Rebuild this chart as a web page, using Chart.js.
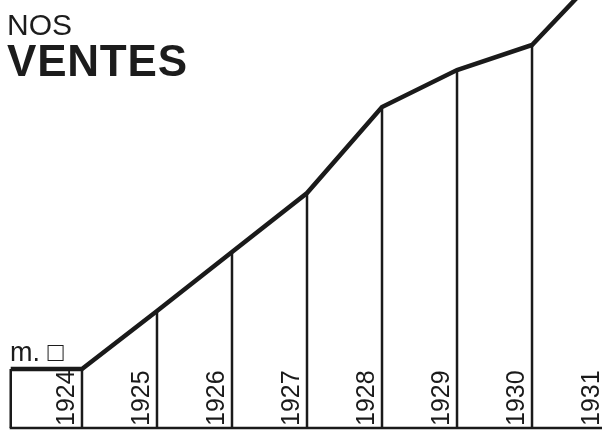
<!DOCTYPE html>
<html>
<head>
<meta charset="utf-8">
<script src="https://cdn.jsdelivr.net/npm/chart.js@4/dist/chart.umd.min.js"></script>
<style>
  html, body { margin: 0; padding: 0; background: #fff; }
  #wrap { position: relative; width: 602px; height: 430px; }
  #ventes__chart { position: absolute; left: 0; top: 0; }
  .titre { position: absolute; left: 7px; font-family: "Liberation Sans", Arial, sans-serif; color: #1c1c1c; line-height: 1; }
  #nos { top: 10px; font-size: 30px; }
  #ventes { top: 39px; font-size: 44px; font-weight: bold; letter-spacing: 0.8px; }
  #unite { position: absolute; left: 10px; top: 337px; font-family: "Liberation Sans", Arial, sans-serif; font-size: 27px; color: #1c1c1c; }
</style>
</head>
<body>
<div id="wrap">
  <canvas id="ventes__chart" width="602" height="430"></canvas>
  <div class="titre" id="nos">NOS</div>
  <div class="titre" id="ventes">VENTES</div>
  <div id="unite">m. □</div>
</div>
<script>
// années (fin de période) et ventes
var annees = [1924, 1925, 1926, 1927, 1928, 1929, 1930, 1931];
var ventes = [59, 117, 176, 235, 321, 358, 383, 462];
var etiquettes = ['1924', '1925', '1926', '1927', '1928', '1929', '1930', '1931'];
// début du rectangle de 1924
var debut = 1923.05;

var points = [{x: debut, y: ventes[0]}];
for (var i = 0; i < annees.length; i++) {
    points.push({x: annees[i], y: ventes[i]});
}

var traits = {
    id: 'traits',
    beforeDatasetsDraw: function(chart) {
        var c = chart.ctx, sx = chart.scales.x, sy = chart.scales.y;
        var y0 = sy.getPixelForValue(0);
        c.save();
        c.strokeStyle = '#1a1a1a';
        c.lineWidth = 2.5;
        // base
        c.beginPath();
        c.moveTo(sx.getPixelForValue(debut) - 1, y0);
        c.lineTo(chart.width, y0);
        c.stroke();
        // verticales
        points.forEach(function(p) {
            var x = sx.getPixelForValue(p.x);
            c.beginPath();
            c.moveTo(x, sy.getPixelForValue(p.y));
            c.lineTo(x, y0);
            c.stroke();
        });
        // années
        c.fillStyle = '#1a1a1a';
        c.font = '25px "Liberation Sans", Arial, sans-serif';
        c.textAlign = 'left';
        c.textBaseline = 'middle';
        annees.forEach(function(a, i) {
            var x = sx.getPixelForValue(a) - 15;
            c.save();
            c.translate(x, y0 - 2);
            c.rotate(-Math.PI / 2);
            c.fillText(etiquettes[i], 0, 0);
            c.restore();
        });
        c.restore();
    }
};

var ctx = document.getElementById('ventes__chart').getContext('2d');
var ventesChart = new Chart(ctx, {
    type: 'line',
    data: {
        datasets: [{
            data: points,
            borderColor: '#1a1a1a',
            borderWidth: 4.5,
            borderJoinStyle: 'miter',
            pointRadius: 0,
            fill: false,
            tension: 0
        }]
    },
    options: {
        responsive: false,
        animation: false,
        layout: { padding: 0 },
        plugins: {
            legend: { display: false },
            tooltip: { enabled: false }
        },
        scales: {
            x: { type: 'linear', min: 1922.907, max: 1930.933, display: false },
            y: { min: -2, max: 428, display: false }
        }
    },
    plugins: [traits]
});
</script>
</body>
</html>
